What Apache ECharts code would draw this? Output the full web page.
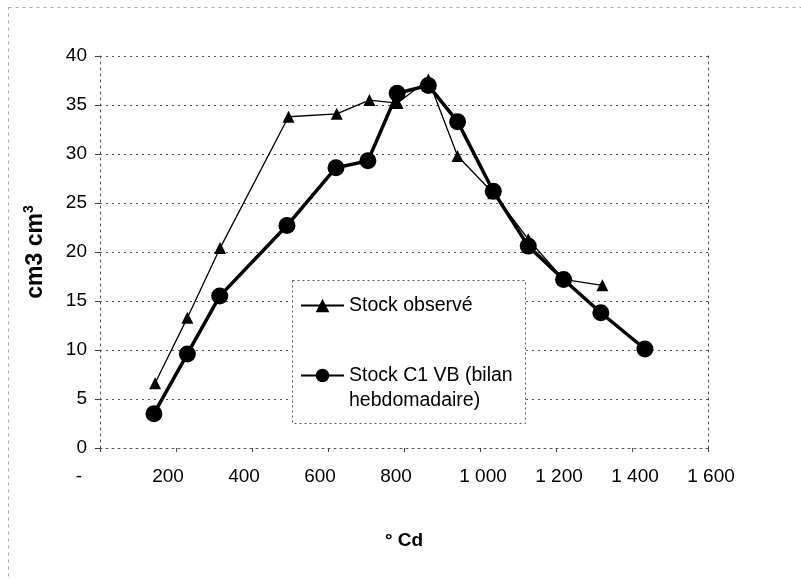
<!DOCTYPE html>
<html>
<head>
<meta charset="utf-8">
<script src="https://cdn.jsdelivr.net/npm/echarts@6/dist/echarts.min.js"></script>
<style>
html,body{margin:0;padding:0;background:#fff;}
#chart{width:801px;height:579px;}
</style>
</head>
<body>
<div id="chart"></div>
<script>
// ---- data ----
const seriesNames = ['Stock observé', 'Stock C1 VB (bilan hebdomadaire)'];
const observedX = [145, 230, 316, 496, 623, 709, 783, 864, 941, 1035, 1127, 1220, 1322];
const observedY = [6.6, 13.3, 20.4, 33.8, 34.1, 35.5, 35.2, 37.6, 29.8, 26.0, 21.3, 17.2, 16.6];
const c1vbX = [142, 230, 315, 492, 621, 705, 782, 864, 941, 1035, 1127, 1220, 1318, 1434];
const c1vbY = [3.5, 9.6, 15.5, 22.7, 28.6, 29.3, 36.2, 37.0, 33.3, 26.2, 20.6, 17.2, 13.8, 10.1];
const xTicks = [0, 200, 400, 600, 800, 1000, 1200, 1400, 1600];
const yTicks = [0, 5, 10, 15, 20, 25, 30, 35, 40];
const xTitle = '° Cd';
const yTitle = 'cm3 cm';

const FONT = 'Arial, "Liberation Sans", sans-serif';
const observedData = observedX.map((x, i) => [x, observedY[i]]);
const c1vbData = c1vbX.map((x, i) => [x, c1vbY[i]]);

function fmtX(v) {
  if (v === 0) return '{d|-}';
  if (v >= 1000) {
    const s = String(v);
    return '{l|' + s.slice(0, s.length - 3) + ' ' + s.slice(-3) + '}';
  }
  return '{s|' + v + '}';
}

const chart = echarts.init(document.getElementById('chart'), null, {renderer: 'canvas'});
const gridLine = {color: '#555', width: 1, type: [2, 4]};

chart.setOption({
  backgroundColor: '#fff',
  animation: false,
  grid: {left: 100, right: 93, top: 56, bottom: 131, containLabel: false},
  xAxis: {
    type: 'value',
    min: xTicks[0], max: xTicks[xTicks.length - 1], interval: 200,
    name: xTitle, nameLocation: 'middle', nameGap: 83,
    nameTextStyle: {fontFamily: FONT, fontSize: 19, fontWeight: 'bold', color: '#000'},
    axisLine: {show: true, lineStyle: gridLine},
    axisTick: {show: true, length: 4, inside: false, lineStyle: {color: '#444'}},
    splitLine: {show: false},
    axisLabel: {
      margin: 19, color: '#000', fontFamily: FONT, fontSize: 19,
      formatter: fmtX,
      rich: {
        d: {fontFamily: FONT, fontSize: 19, color: '#000', padding: [0, 42, 0, 0]},
        s: {fontFamily: FONT, fontSize: 19, color: '#000', padding: [0, 16, 0, 0]},
        l: {fontFamily: FONT, fontSize: 19, color: '#000', padding: [0, 0, 0, 6]}
      }
    }
  },
  yAxis: [{
    type: 'value',
    min: yTicks[0], max: yTicks[yTicks.length - 1], interval: 5,
    name: '{a|' + yTitle + '}{b|3}', nameLocation: 'middle', nameGap: 50, nameRotate: 90,
    nameTextStyle: {
      fontFamily: FONT, fontSize: 23, fontWeight: 'bold', color: '#000',
      rich: {
        a: {fontFamily: FONT, fontSize: 23, fontWeight: 'bold', color: '#000', lineHeight: 28},
        b: {fontFamily: FONT, fontSize: 14, fontWeight: 'bold', color: '#000', padding: [0, 0, 14, 0]}
      }
    },
    axisLine: {show: true, lineStyle: gridLine},
    axisTick: {show: true, length: 5, inside: false, lineStyle: {color: '#444'}},
    splitLine: {show: true, lineStyle: gridLine},
    axisLabel: {margin: 13, color: '#000', fontFamily: FONT, fontSize: 19}
  }, {
    type: 'value', position: 'right',
    min: yTicks[0], max: yTicks[yTicks.length - 1], interval: 5,
    axisLine: {show: true, lineStyle: gridLine},
    axisTick: {show: false}, axisLabel: {show: false}, splitLine: {show: false}
  }],
  legend: {
    orient: 'vertical',
    left: 300, top: 293,
    padding: 0,
    itemWidth: 43, itemHeight: 17, itemGap: 20,
    data: [seriesNames[0], seriesNames[1]],
    formatter: function (name) {
      if (name === seriesNames[1]) return ' \nStock C1 VB (bilan\nhebdomadaire)';
      return name;
    },
    textStyle: {fontFamily: FONT, fontSize: 19.5, color: '#000', lineHeight: 25},
    z: 10
  },
  graphic: [
    {type: 'rect', silent: true, z: 5,
     shape: {x: 292.5, y: 280.5, width: 233, height: 143},
     style: {fill: '#fff', stroke: '#555', lineWidth: 1, lineDash: [2, 3]}},
    {type: 'rect', silent: true, z: -2,
     shape: {x: 8.5, y: 7.5, width: 830, height: 620},
     style: {fill: 'none', stroke: '#aaa', lineWidth: 1, lineDash: [3, 4]}}
  ],
  series: [
    {
      name: seriesNames[1], type: 'line', data: c1vbData,
      symbol: 'circle', symbolSize: 17, showSymbol: true,
      lineStyle: {color: '#000', width: 3.5},
      itemStyle: {color: '#000'},
      z: 3
    },
    {
      name: seriesNames[0], type: 'line', data: observedData,
      symbol: 'triangle', symbolSize: 12, showSymbol: true,
      lineStyle: {color: '#000', width: 1.3},
      itemStyle: {color: '#000'},
      z: 4
    }
  ]
});
</script>
</body>
</html>
